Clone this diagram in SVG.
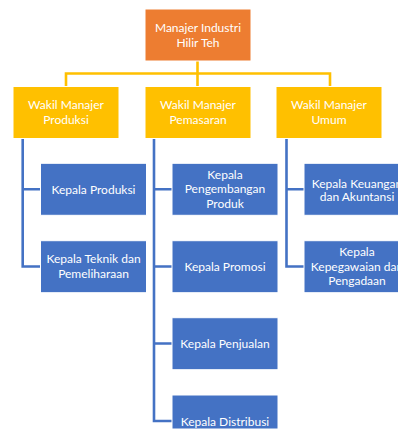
<svg xmlns="http://www.w3.org/2000/svg" width="398" height="438" viewBox="0 0 398 438">
<style>
.box{stroke:#ffffff;stroke-width:1}
.o{fill:#ED7D31}.y{fill:#FFC000}.b{fill:#4472C4}
text{font-family:Lato,"Liberation Sans",sans-serif;font-size:12px;fill:#ffffff;text-anchor:middle}
.yc{stroke:#FFC000;stroke-width:2.6;fill:none}
.bc{stroke:#4472C4;stroke-width:2.6;fill:none}
</style>
<rect width="398" height="438" fill="#ffffff"/>
<g id="connectors">
<path class="yc" d="M197.5 61V86.5M66 86.5V73.5H330V86.5"/>
<path class="bc" d="M22.7 138V266.5H40.5M22.7 189.3H40.5"/>
<path class="bc" d="M154 138V421H172M154 189.3H172M154 266.5H172M154 343.5H172"/>
<path class="bc" d="M286.5 138V266.5H304M286.5 189.3H304"/>
</g>
<g id="n-manajer"><rect class="box o" x="145" y="9" width="106" height="52"/><text x="198" y="32">Manajer Industri</text><text x="198" y="47">Hilir Teh</text></g>
<g id="n-wakil-produksi"><rect class="box y" x="13" y="86.5" width="106" height="52"/><text x="66" y="109">Wakil Manajer</text><text x="66" y="123.5">Produksi</text></g>
<g id="n-wakil-pemasaran"><rect class="box y" x="145" y="86.5" width="106" height="52"/><text x="198" y="109">Wakil Manajer</text><text x="198" y="123.5">Pemasaran</text></g>
<g id="n-wakil-umum"><rect class="box y" x="276" y="86.5" width="106" height="52"/><text x="329" y="109">Wakil Manajer</text><text x="329" y="123.5">Umum</text></g>
<g id="n-produksi"><rect class="box b" x="40.5" y="163.3" width="106" height="52"/><text x="93.5" y="193.5">Kepala Produksi</text></g>
<g id="n-teknik"><rect class="box b" x="40.5" y="240.7" width="106" height="52"/><text x="93.5" y="263">Kepala Teknik dan</text><text x="93.5" y="277.5">Pemeliharaan</text></g>
<g id="n-pengembangan"><rect class="box b" x="172" y="163.3" width="106" height="52"/><text x="225" y="179">Kepala</text><text x="225" y="193">Pengembangan</text><text x="225" y="207.5">Produk</text></g>
<g id="n-promosi"><rect class="box b" x="172" y="240.7" width="106" height="52"/><text x="225" y="271">Kepala Promosi</text></g>
<g id="n-penjualan"><rect class="box b" x="172" y="317.7" width="106" height="52"/><text x="225" y="347.7">Kepala Penjualan</text></g>
<g id="n-distribusi"><rect class="box b" x="172" y="395" width="106" height="34"/><text x="225" y="425.5">Kepala Distribusi</text></g>
<g id="n-keuangan"><rect class="box b" x="304" y="163.3" width="106" height="52"/><text x="357" y="187.5">Kepala Keuangan</text><text x="357" y="201">dan Akuntansi</text></g>
<g id="n-kepegawaian"><rect class="box b" x="304" y="240.7" width="106" height="52"/><text x="357" y="256">Kepala</text><text x="357" y="271">Kepegawaian dan</text><text x="357" y="284.5">Pengadaan</text></g>
</svg>
